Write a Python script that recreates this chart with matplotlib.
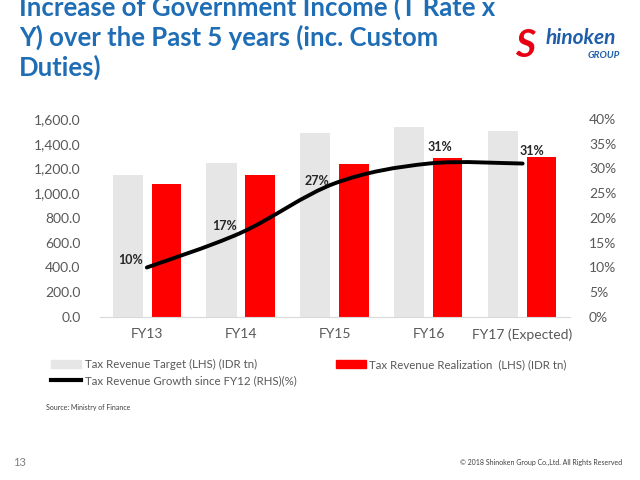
import matplotlib
matplotlib.use("Agg")
import matplotlib.pyplot as plt
from matplotlib.path import Path
from matplotlib.patches import PathPatch, Patch
from matplotlib.lines import Line2D
from matplotlib.ticker import FuncFormatter, PercentFormatter

plt.rcParams['font.family'] = ['Lato', 'DejaVu Sans']

# data
years = ["FY13", "FY14", "FY15", "FY16", "FY17 (Expected)"]
target = [1148, 1246, 1489, 1539, 1499]
realization = [1077, 1146, 1240, 1285, 1290]
growth = [0.10, 0.17, 0.27, 0.31, 0.31]
growth_labels = ["10%", "17%", "27%", "31%", "31%"]
label_offsets = [(-11.5, 5.4), (-11.5, 5), (-13, 2), (8, 12), (6.5, 9)]

TICK = '#595959'
TITLE = '#1F6DB5'

fig = plt.figure(figsize=(6.4, 4.8), dpi=100)
ax = fig.add_axes([0.156, 0.3396, 0.734, 0.4125])
ax2 = ax.twinx()

x = list(range(len(years)))
ax.bar([i - 0.205 for i in x], target, width=0.32, color='#E6E6E6', zorder=1)
ax.bar([i + 0.205 for i in x], realization, width=0.31, color='#FF0000', zorder=1)

ax.set_xlim(-0.5, len(years) - 0.5)
ax.set_ylim(0, 1600)
ax.set_yticks(range(0, 1601, 200))
ax.yaxis.set_major_formatter(FuncFormatter(lambda v, p: f"{v:,.1f}"))
ax.set_xticks(x)
ax.set_xticklabels(years)

ax2.set_ylim(0, 0.40)
ax2.set_yticks([i / 100 for i in range(0, 41, 5)])
ax2.yaxis.set_major_formatter(PercentFormatter(1.0, decimals=0))

for a in (ax, ax2):
    for s in a.spines.values():
        s.set_visible(False)
    a.tick_params(length=0, labelsize=10, colors=TICK)
ax.spines['bottom'].set_visible(True)
ax.spines['bottom'].set_color('#D9D9D9')
ax.tick_params(axis='x', pad=8)
ax.tick_params(axis='y', pad=14)
ax2.tick_params(axis='y', pad=14)

# smoothed line like the spreadsheet's "smoothed line" option (bezier through the points)
pts = list(zip(x, growth))
verts = [pts[0]]
codes = [Path.MOVETO]
n = len(pts)
for i in range(n - 1):
    p0 = pts[i - 1] if i > 0 else pts[i]
    p1, p2 = pts[i], pts[i + 1]
    p3 = pts[i + 2] if i + 2 < n else pts[i + 1]
    c1 = (p1[0] + (p2[0] - p0[0]) / 6, p1[1] + (p2[1] - p0[1]) / 6)
    c2 = (p2[0] - (p3[0] - p1[0]) / 6, p2[1] - (p3[1] - p1[1]) / 6)
    verts += [c1, c2, p2]
    codes += [Path.CURVE4] * 3
ax2.add_patch(PathPatch(Path(verts, codes), facecolor='none', edgecolor='black',
                        lw=2.8, capstyle='round', zorder=3))

for xi, g, lab, off in zip(x, growth, growth_labels, label_offsets):
    ax2.annotate(lab, (xi, g), xytext=off, textcoords='offset points',
                 ha='center', va='center', fontsize=9, fontweight='bold', color='#262626')

handles = [Patch(color='#E6E6E6'), Line2D([], [], color='black', lw=3), Patch(color='#FF0000')]
labels = ["Tax Revenue Target (LHS) (IDR tn)", "Tax Revenue Growth since FY12 (RHS)(%)",
          "Tax Revenue Realization  (LHS) (IDR tn)"]
fig.legend(handles, labels, loc='upper left', bbox_to_anchor=(0.073, 0.262), ncol=2,
           frameon=False, fontsize=8.3, labelcolor=TICK, handlelength=2.6, handleheight=0.7,
           handletextpad=0.3, columnspacing=3.4, labelspacing=0.45, borderaxespad=0)

# title (top line is cut off in the slide)
fig.text(0.03, 1.012, "Increase of Government Income (T Rate x\nY) over the Past 5 years (inc. Custom\nDuties)",
         ha='left', va='top', fontsize=18.5, fontweight='bold', color=TITLE, linespacing=1.24)

# logo
fig.text(0.805, 0.905, "S", fontsize=28, fontweight='bold', style='italic', color='#E60012',
         ha='left', va='center')
fig.text(0.852, 0.92, "hinoken", fontsize=15, fontweight='bold', style='italic', color='#1F5FAA',
         ha='left', va='center')
fig.text(0.968, 0.885, "GROUP", fontsize=7, fontweight='bold', style='italic', color='#1F5FAA',
         ha='right', va='center')

fig.text(0.072, 0.145, "Source: Ministry of Finance", fontsize=5, color='#404040')
fig.text(0.02, 0.03, "13", fontsize=8, color='#7F7F7F')
fig.text(0.972, 0.032, "\u00a9 2018 Shinoken Group Co.,Ltd. All Rights Reserved", fontsize=5,
         color='#404040', ha='right')

fig.savefig("out.png", dpi=100)
